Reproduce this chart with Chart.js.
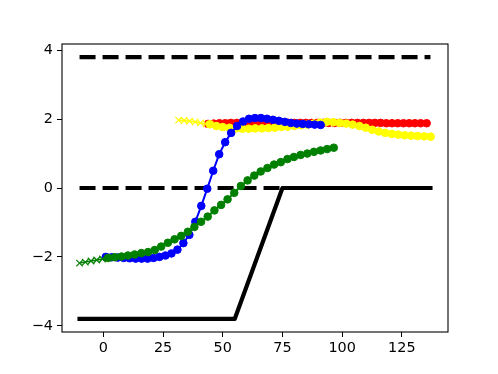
<!DOCTYPE html>
<html>
<head>
<meta charset="utf-8">
<script src="https://cdn.jsdelivr.net/npm/chart.js@4/dist/chart.umd.min.js"></script>
<style>
  html, body { margin: 0; padding: 0; background: #fff; }
  #wrap { width: 498px; height: 374px; }
</style>
</head>
<body>
<div id="wrap"><canvas id="c" width="498" height="374"></canvas></div>
<script>
// ---- data ----
const xTicks = [0, 25, 50, 75, 100, 125];
const yTicks = [-4, -2, 0, 2, 4];

const dashTopX = [-10, 137];
const dashTopY = [3.8, 3.8];
const dashZeroX = [-10, 137];
const dashZeroY = [0, 0];
const solidX = [-10, 55, 75, 137];
const solidY = [-3.8, -3.8, 0, 0];

const greenCrossX = [-10, -7.6, -5.2, -2.8, -0.4, 2.0];
const greenCrossY = [-2.18, -2.15, -2.12, -2.09, -2.06, -2.03];
const greenX = [2.0, 4.8, 7.6, 10.3, 13.1, 15.9, 18.7, 21.5, 24.2, 27.0, 29.8, 32.6, 35.4, 38.1, 40.9, 43.7, 46.5, 49.3, 52.0, 54.8, 57.6, 60.4, 63.2, 65.9, 68.7, 71.5, 74.3, 77.1, 79.8, 82.6, 85.4, 88.2, 91.0, 93.7, 96.5];
const greenY = [-2.03, -2.01, -1.99, -1.96, -1.93, -1.89, -1.86, -1.80, -1.70, -1.59, -1.49, -1.39, -1.27, -1.13, -0.98, -0.83, -0.65, -0.49, -0.33, -0.14, 0.06, 0.22, 0.36, 0.48, 0.58, 0.68, 0.75, 0.84, 0.90, 0.96, 1.00, 1.05, 1.09, 1.13, 1.17];

const blueX = [1, 3.5, 6, 8.5, 11, 13.5, 16, 18.5, 21, 23.5, 26, 28.5, 31, 33.5, 36, 38.5, 41, 43.5, 46, 48.5, 51, 53.5, 56, 58.5, 61, 63.5, 66, 68.5, 71, 73.5, 76, 78.5, 81, 83.5, 86, 88.5, 91];
const blueY = [-2.00, -2.01, -2.02, -2.03, -2.04, -2.05, -2.05, -2.05, -2.03, -2.00, -1.96, -1.90, -1.79, -1.60, -1.36, -0.98, -0.52, -0.02, 0.50, 0.98, 1.33, 1.60, 1.80, 1.93, 2.01, 2.03, 2.03, 2.01, 1.98, 1.95, 1.92, 1.89, 1.87, 1.86, 1.85, 1.84, 1.83];

const yellowCrossX = [31.5, 33.8, 36.1, 38.4, 40.7, 43.0, 44.6];
const yellowCrossY = [1.97, 1.96, 1.94, 1.92, 1.89, 1.86, 1.85];
const yellowX = [44.6, 47.3, 50.0, 52.8, 55.5, 58.2, 60.9, 63.6, 66.4, 69.1, 71.8, 74.5, 77.2, 80.0, 82.7, 85.4, 88.1, 90.8, 93.6, 96.3, 99.0, 101.7, 104.4, 107.2, 109.9, 112.6, 115.3, 118.0, 120.8, 123.5, 126.2, 128.9, 131.6, 134.4, 137.1];
const yellowY = [1.85, 1.80, 1.77, 1.75, 1.73, 1.72, 1.72, 1.73, 1.73, 1.74, 1.75, 1.77, 1.78, 1.80, 1.82, 1.84, 1.87, 1.90, 1.92, 1.91, 1.89, 1.87, 1.84, 1.80, 1.75, 1.69, 1.64, 1.60, 1.57, 1.55, 1.53, 1.52, 1.51, 1.50, 1.49];

const redX = [43.8, 46.2, 48.6, 51.0, 53.4, 55.9, 58.3, 60.7, 63.1, 65.5, 67.9, 70.3, 72.7, 75.1, 77.5, 79.9, 82.4, 84.8, 87.2, 89.6, 92.0, 94.4, 96.8, 99.2, 101.6, 104.0, 106.4, 108.9, 111.3, 113.7, 116.1, 118.5, 120.9, 123.3, 125.7, 128.1, 130.5, 132.9, 135.4];
const redY = [1.86, 1.87, 1.88, 1.88, 1.89, 1.89, 1.89, 1.89, 1.89, 1.89, 1.89, 1.89, 1.89, 1.89, 1.89, 1.89, 1.89, 1.89, 1.89, 1.89, 1.89, 1.89, 1.89, 1.89, 1.89, 1.89, 1.89, 1.89, 1.89, 1.89, 1.89, 1.88, 1.88, 1.88, 1.88, 1.88, 1.88, 1.88, 1.88];

// ---- build ----
const pts = (xs, ys) => xs.map((x, i) => ({ x: x, y: ys[i] }));
const FONT = { family: 'DejaVu Sans', size: 14.4 };

function circleSeries(xs, ys, color, order) {
  return {
    data: pts(xs, ys), showLine: true, borderColor: color, backgroundColor: color,
    borderWidth: 2, pointStyle: 'circle', pointRadius: 3.8, pointBorderWidth: 1,
    pointBackgroundColor: color, pointBorderColor: color, order: order
  };
}
function crossSeries(xs, ys, color, order) {
  return {
    data: pts(xs, ys), showLine: true, borderColor: color, backgroundColor: color,
    borderWidth: 1.5, pointStyle: 'crossRot', pointRadius: 4.6, pointBorderWidth: 1.2,
    pointBorderColor: color, order: order
  };
}
function lineSeries(xs, ys, dash, cap, order) {
  return {
    data: pts(xs, ys), showLine: true, borderColor: '#000', borderWidth: 4.2,
    borderDash: dash, borderCapStyle: cap, borderJoinStyle: 'round',
    pointRadius: 0, order: order
  };
}

const frame = {
  id: 'frame',
  afterDatasetsDraw(chart) {
    const a = chart.chartArea, ctx = chart.ctx;
    ctx.save();
    ctx.strokeStyle = '#000';
    ctx.lineWidth = 1.1;
    ctx.strokeRect(a.left, a.top, a.right - a.left, a.bottom - a.top);
    ctx.restore();
  }
};

new Chart(document.getElementById('c'), {
  type: 'scatter',
  data: {
    datasets: [
      lineSeries(dashTopX, dashTopY, [16, 7], 'butt', 20),
      lineSeries(dashZeroX, dashZeroY, [16, 7], 'butt', 19),
      lineSeries(solidX, solidY, [], 'square', 18),
      circleSeries(redX, redY, '#ff0000', 10),
      crossSeries(yellowCrossX, yellowCrossY, '#ffff00', 9),
      circleSeries(yellowX, yellowY, '#ffff00', 8),
      circleSeries(blueX, blueY, '#0000ff', 7),
      crossSeries(greenCrossX, greenCrossY, '#008000', 6),
      circleSeries(greenX, greenY, '#008000', 5)
    ]
  },
  options: {
    responsive: false, animation: false, devicePixelRatio: 1,
    layout: { padding: { top: 44, right: 50, left: 0, bottom: 0 } },
    plugins: { legend: { display: false }, tooltip: { enabled: false } },
    scales: {
      x: {
        type: 'linear', min: -17.35, max: 144.35,
        afterBuildTicks: s => { s.ticks = xTicks.map(v => ({ value: v })); },
        afterFit: s => { s.height = 42; },
        grid: { drawOnChartArea: false, drawTicks: true, tickLength: 5, color: '#000', lineWidth: 1 },
        border: { display: false },
        ticks: { font: FONT, color: '#000', padding: 3, maxRotation: 0, autoSkip: false }
      },
      y: {
        type: 'linear', min: -4.18, max: 4.18,
        afterBuildTicks: s => { s.ticks = yTicks.map(v => ({ value: v })); },
        afterFit: s => { s.width = 62; },
        grid: { drawOnChartArea: false, drawTicks: true, tickLength: 5, color: '#000', lineWidth: 1 },
        border: { display: false },
        ticks: { font: FONT, color: '#000', padding: 4, autoSkip: false,
          callback: v => (v < 0 ? '\u2212' + Math.abs(v) : String(v)) }
      }
    }
  },
  plugins: [frame]
});
</script>
</body>
</html>
